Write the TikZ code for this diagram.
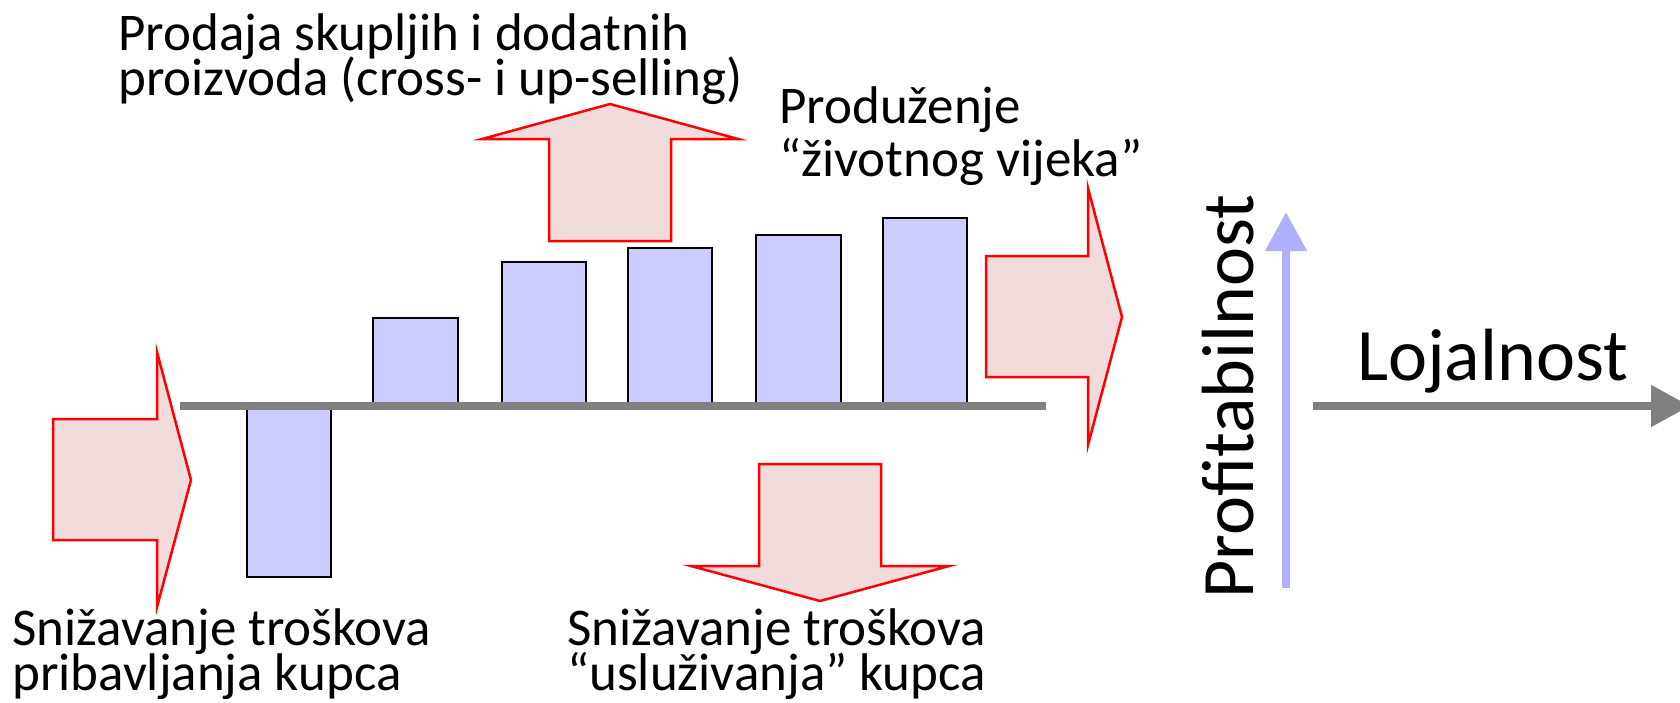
\documentclass[tikz,border=0pt]{standalone}
\usepackage{fontspec}
\setmainfont{Carlito}
\usetikzlibrary{arrows.meta}

\definecolor{barfill}{HTML}{CCCCFF}
\definecolor{blockfill}{HTML}{F2DCDB}
\definecolor{blockline}{HTML}{FF0000}
\definecolor{axisgray}{HTML}{808080}
\definecolor{profitblue}{HTML}{B0B0FF}

\newcommand{\capsize}[2]{\fontsize{#1}{#2}\selectfont\lineskiplimit=-100pt\relax}

\tikzset{
  bar/.style={draw=black, fill=barfill, line width=1.5pt},
  blockarrow/.style={draw=blockline, fill=blockfill, line width=2.5pt, line join=miter},
  caption/.style={inner sep=0pt, anchor=base west, align=left, font=\capsize{53}{45}},
  axistext/.style={inner sep=0pt, anchor=base west, font=\capsize{74}{80}},
}

\begin{document}
\begin{tikzpicture}[x=1pt, y=-1pt]
  \useasboundingbox (0,0) rectangle (1680,702);

  % profitability bars over the customer lifetime
  \draw[bar] (247,406) rectangle (331,577);
  \draw[bar] (373,406) rectangle (458,318);
  \draw[bar] (502,406) rectangle (586,262);
  \draw[bar] (628,406) rectangle (712,248);
  \draw[bar] (756,406) rectangle (841,235);
  \draw[bar] (883,406) rectangle (967,218);

  % zero line
  \coordinate (zl) at (180,406);
  \coordinate (zr) at (1046,406);
  \draw[axisgray, line width=7.5pt] (zl) -- (zr);

  % block arrows
  \draw[blockarrow] (53,419) -- (157,419) -- (157,352) -- (191,480)
    -- (157,607) -- (157,540) -- (53,540) -- cycle;
  \draw[blockarrow] (549,241) -- (549,139) -- (482,139) -- (610,104)
    -- (738,139) -- (671,139) -- (671,241) -- cycle;
  \draw[blockarrow] (986,256) -- (1088,256) -- (1088,188) -- (1122,317)
    -- (1088,445) -- (1088,377) -- (986,377) -- cycle;
  \draw[blockarrow] (759,464) -- (881,464) -- (881,566) -- (949,566)
    -- (820,601) -- (691,566) -- (759,566) -- cycle;

  % captions (anchored at the baseline of their last line)
  \node[caption] (upsell) at (118,95)
    {Prodaja skupljih i dodatnih\\proizvoda (cross- i up-selling)};
  \node[caption, font=\capsize{53}{53}] (life) at (779,176)
    {Produženje\\“životnog vijeka”};
  \node[caption] (acq) at (12,690)
    {Snižavanje troškova\\pribavljanja kupca};
  \node[caption] (serv) at (567,690)
    {Snižavanje troškova\\“usluživanja” kupca};

  % axes
  \coordinate (pb) at (1286,588);
  \coordinate (pt) at (1286,212);
  \draw[profitblue, line width=8pt, -{Triangle[length=39pt,width=40pt]}] (pb) -- (pt);
  \coordinate (lb) at (1313,406);
  \coordinate (lt) at (1690,406);
  \draw[axisgray, line width=8pt, -{Triangle[length=39pt,width=40pt]}] (lb) -- (lt);

  \node[axistext] (loy) at (1357,380) {Lojalnost};
  \node[axistext, rotate=90] (prof) at (1253,599) {Profitabilnost};
\end{tikzpicture}
\end{document}
